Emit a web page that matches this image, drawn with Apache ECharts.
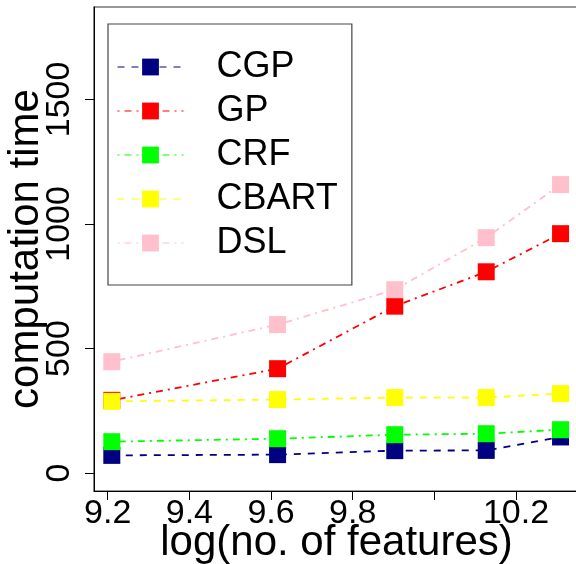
<!DOCTYPE html>
<html>
<head>
<meta charset="utf-8">
<script src="https://cdn.jsdelivr.net/npm/echarts@6/dist/echarts.min.js"></script>
<style>
  html, body { margin: 0; padding: 0; background: #fff; }
  #main { width: 576px; height: 564px; }
</style>
</head>
<body>
<div id="main"></div>
<script>
// log(no. of features) for each run
const xValues = [9.21, 9.616, 9.903, 10.127, 10.309];
const seriesNames = ['CGP', 'GP', 'CRF', 'CBART', 'DSL'];
const cgp = [71, 74, 90, 91, 145];
const gp = [292, 419, 670, 808, 961];
const crf = [126, 138, 154, 158, 174];
const cbart = [288, 295, 303, 303, 319];
const dsl = [447, 596, 736, 945, 1158];
const xTicks = [9.2, 9.4, 9.6, 9.8, 10.0, 10.2];
const xLabels = [9.2, 9.4, 9.6, 9.8, 10.2]; // 10.0 dropped like in the original
const yTicks = [0, 500, 1000, 1500];

const colors = ['#000080', '#ff0000', '#00ff00', '#ffff00', '#ffc0cb'];
const dashed = [7, 7];
const dotdash = [2, 5, 7, 5];
const dashes = [dashed, dotdash, dotdash, dashed, dotdash];
const values = [cgp, gp, crf, cbart, dsl];

const font = 'Liberation Sans, Arial, sans-serif';

const series = seriesNames.map((name, i) => ({
  name: name,
  type: 'line',
  data: xValues.map((x, j) => [x, values[i][j]]),
  symbol: 'rect',
  symbolSize: 17,
  itemStyle: { color: colors[i] },
  lineStyle: { color: colors[i], width: 1.8, type: dashes[i] },
  z: 2 + i
}));

const chart = echarts.init(document.getElementById('main'));
chart.setOption({
  animation: false,
  grid: {
    left: 94, top: 7, right: -3, bottom: 73,
    outerBoundsMode: 'none', containLabel: false,
    show: true, borderColor: '#333', borderWidth: 1.2, backgroundColor: 'transparent'
  },
  legend: {
    left: 108, top: 24,
    orient: 'vertical',
    data: seriesNames,
    itemWidth: 66, itemHeight: 21, itemGap: 8,
    padding: [25, 14, 24, 9],
    borderColor: '#444', borderWidth: 1.2,
    lineStyle: { width: 1 },
    textStyle: { fontFamily: font, fontSize: 36, color: '#000', lineHeight: 36, padding: [0, 0, 0, 28] }
  },
  xAxis: {
    type: 'value',
    min: 9.1664, max: 10.3542,
    name: 'log(no. of features)',
    nameLocation: 'middle',
    nameGap: 31,
    nameMoveOverlap: false,
    nameTextStyle: { fontFamily: font, fontSize: 42, color: '#000' },
    axisLine: { show: true, onZero: false, lineStyle: { color: '#000', width: 1 } },
    axisTick: { show: true, length: 9, customValues: xTicks, lineStyle: { color: '#000' } },
    axisLabel: { customValues: xLabels, fontFamily: font, fontSize: 34, color: '#000', margin: 6,
      formatter: v => v.toFixed(1) },
    splitLine: { show: false }
  },
  yAxis: {
    type: 'value',
    min: -72, max: 1871,
    name: 'computation time',
    nameLocation: 'middle',
    nameRotate: 90,
    nameGap: 47,
    nameMoveOverlap: false,
    nameTextStyle: { fontFamily: font, fontSize: 42, color: '#000' },
    axisLine: { show: true, onZero: false, lineStyle: { color: '#000', width: 1 } },
    axisTick: { show: true, length: 9, customValues: yTicks, lineStyle: { color: '#000' } },
    axisLabel: { customValues: yTicks, rotate: 90, fontFamily: font, fontSize: 34, color: '#000', margin: 17,
      formatter: v => String(v) },
    splitLine: { show: false }
  },
  series: series
});
</script>
</body>
</html>
